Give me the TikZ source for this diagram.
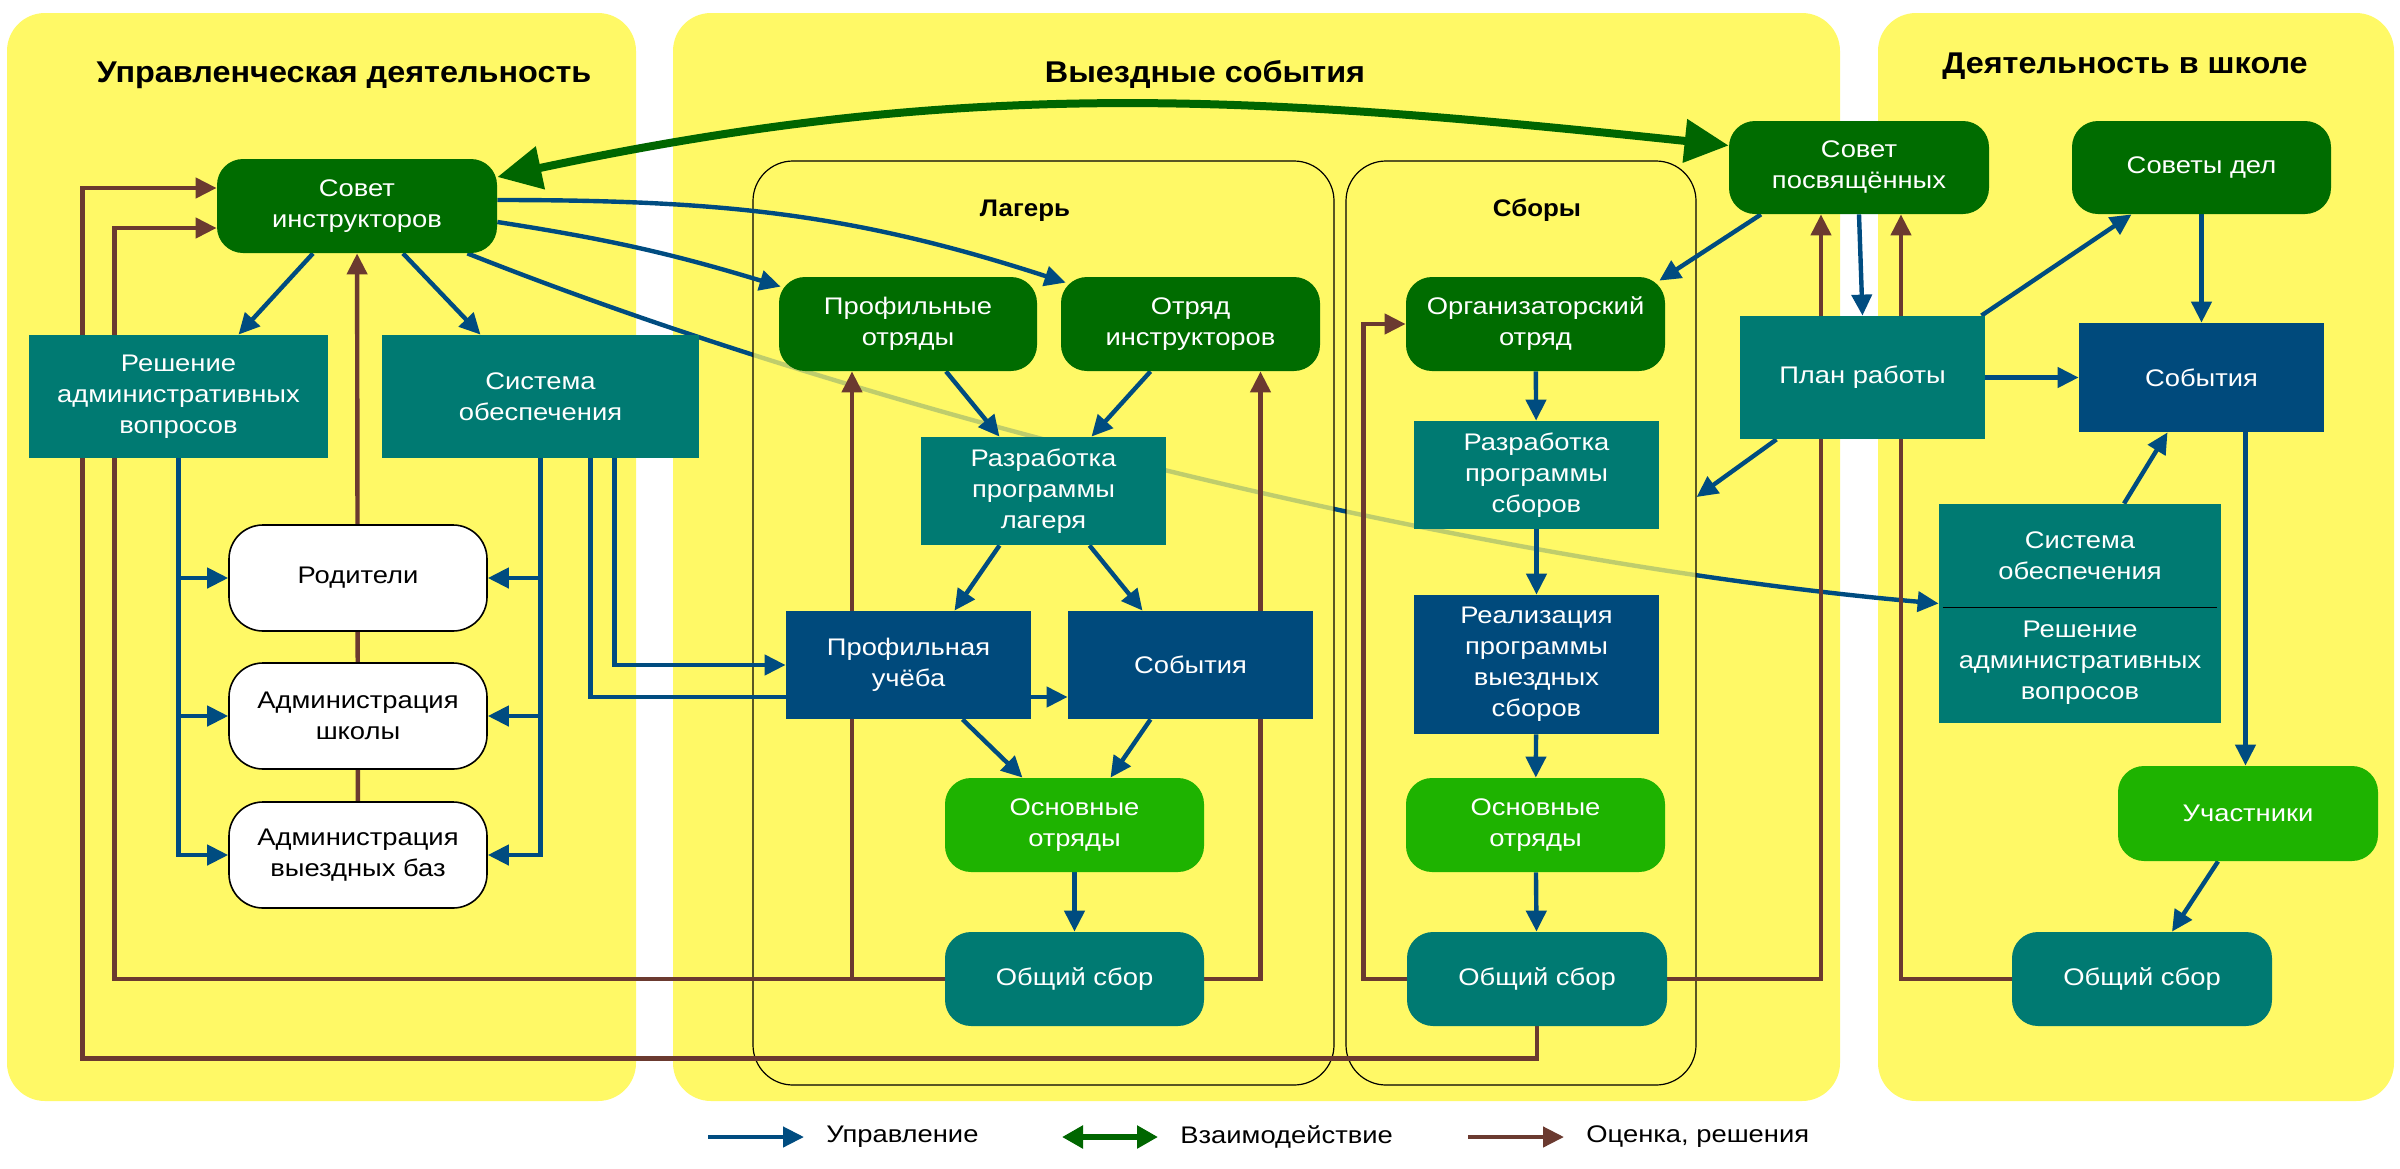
\documentclass[tikz,border=0pt]{standalone}
\usepackage{fontspec}
\setmainfont{Liberation Sans}[FakeStretch=1.14,BoldFeatures={FakeStretch=1.08}]
\usepackage{xcolor}
\usetikzlibrary{arrows.meta,calc}
\definecolor{panelyel}{HTML}{FFF966}
\definecolor{cdgreen}{HTML}{006C00}
\definecolor{clgreen}{HTML}{1EB300}
\definecolor{cteal}{HTML}{007A72}
\definecolor{cnavy}{HTML}{004A7C}
\definecolor{cblue}{HTML}{004C80}
\definecolor{cbrown}{HTML}{6B3A30}
\definecolor{cgreen}{HTML}{006600}
\newcommand{\boxtxt}{\fontsize{12}{15.5}\selectfont}
\newcommand{\panelhead}{\fontsize{15}{18}\selectfont\bfseries}
\pgfdeclarelayer{bg}
\pgfdeclarelayer{under}
\pgfdeclarelayer{frames}
\pgfdeclarelayer{lines}
\pgfsetlayers{bg,under,frames,lines,main}
\tikzset{
  panel/.style={fill=panelyel, rounded corners=19pt},
  frame/.style={draw=black, line width=0.6pt, fill=panelyel, fill opacity=0.75, rounded corners=20pt},
  sz/.style 2 args={minimum width=#1*0.5pt, minimum height=#2*0.5pt},
  boxtext/.style={inner sep=0pt, align=center, text=white, font=\boxtxt},
  council/.style={boxtext, fill=cdgreen, rounded corners=13pt},
  squad/.style={boxtext, fill=clgreen, rounded corners=13pt},
  meet/.style={boxtext, fill=cteal, rounded corners=13pt},
  work/.style={boxtext, fill=cteal},
  act/.style={boxtext, fill=cnavy},
  partner/.style={boxtext, text=black, fill=white, draw=black, line width=0.8pt, rounded corners=17pt},
  head/.style={inner sep=0pt, anchor=base, font=\panelhead},
  ctrl/.style={draw=cblue, line width=2.2pt, -{Triangle[length=10.5pt,width=10pt]}},
  eval/.style={draw=cbrown, line width=2.2pt, -{Triangle[length=10.5pt,width=10pt]}},
  inter/.style={draw=cgreen, line width=4pt, {Triangle[length=22pt,width=21pt]}-{Triangle[length=22pt,width=21pt]}},
  interkey/.style={draw=cgreen, line width=3pt, {Triangle[length=10.5pt,width=11pt]}-{Triangle[length=10.5pt,width=11pt]}},
}
\begin{document}
\begin{tikzpicture}[x=0.5pt, y=-0.5pt]
\useasboundingbox (0,0) rectangle (2400,1168);

% three activity panels
\begin{pgfonlayer}{bg}
\fill[panel] (7,13) rectangle (636,1101);
\fill[panel] (673,13) rectangle (1840,1101);
\fill[panel] (1878,13) rectangle (2394,1101);
\end{pgfonlayer}

\node[head] (hUpr) at (344,82) {Управленческая деятельность};
\node[head] (hVyezd) at (1205,82) {Выездные события};
\node[head] (hShk) at (2125,73.5) {Деятельность в школе};

% camp and gatherings frames
\begin{pgfonlayer}{frames}
\node[frame, sz={581}{924}] (lager) at (1043.5,623) {};
\node[frame, sz={350}{924}] (sbory) at (1521,623) {};
\end{pgfonlayer}
\node[head, font=\boxtxt\bfseries] (lLag) at (1025,216) {Лагерь};
\node[head, font=\boxtxt\bfseries] (lSb) at (1537,216) {Сборы};

% management
\node[council, sz={280}{94}] (sovInstr) at (357,206) {Совет\\инструкторов};
\node[work, sz={299}{123}] (reshL) at (178.5,396.5) {Решение\\административных\\вопросов};
\node[work, sz={317}{123}] (sysL) at (540.5,396.5) {Система\\обеспечения};
\node[partner, sz={258}{106}] (rodit) at (358,578) {Родители};
\node[partner, sz={258}{106}] (admShk) at (358,716) {Администрация\\школы};
\node[partner, sz={258}{106}] (admBaz) at (358,855) {Администрация\\выездных баз};

% camp
\node[council, sz={258}{94}] (profOtr) at (908,324) {Профильные\\отряды};
\node[council, sz={259}{94}] (otrInstr) at (1190.5,324) {Отряд\\инструкторов};
\node[work, sz={245}{108}] (razLag) at (1043.5,491) {Разработка\\программы\\лагеря};
\node[act, sz={245}{108}] (profUch) at (908.5,665) {Профильная\\учёба};
\node[act, sz={245}{108}] (sobL) at (1190.5,665) {События};
\node[squad, sz={259}{94}] (osnL) at (1074.5,825) {Основные\\отряды};
\node[meet, sz={259}{94}] (obshL) at (1074.5,979) {Общий сбор};

% gatherings
\node[council, sz={259}{94}] (orgOtr) at (1535.5,324) {Организаторский\\отряд};
\node[work, sz={245}{108}] (razSb) at (1536.5,475) {Разработка\\программы\\сборов};
\node[act, sz={245}{139}] (realiz) at (1536.5,664.5) {Реализация\\программы\\выездных\\сборов};
\node[squad, sz={259}{94}] (osnS) at (1535.5,825) {Основные\\отряды};
\node[meet, sz={260}{94}] (obshS) at (1537,979) {Общий сбор};

% school
\node[council, sz={260}{93}] (sovPosv) at (1859,167.5) {Совет\\посвящённых};
\node[work, sz={245}{123}] (plan) at (1862.5,377.5) {План работы};
\node[council, sz={259}{93}] (sovDel) at (2201.5,167.5) {Советы дел};
\node[act, sz={245}{109}] (sobR) at (2201.5,377.5) {События};
\node[work, sz={282}{219}] (sysR) at (2080,613.5) {};
\node[boxtext] (sysRa) at (2080,556) {Система\\обеспечения};
\node[boxtext] (sysRb) at (2080,663) {Решение\\административных\\вопросов};
\draw[line width=0.8pt] ([xshift=2pt,yshift=3pt]sysR.west) -- ([xshift=-2pt,yshift=3pt]sysR.east);
\node[squad, sz={260}{95}] (uchast) at (2248,813.5) {Участники};
\node[meet, sz={260}{94}] (obshR) at (2142,979) {Общий сбор};

% long control line, seen through the frames
\begin{pgfonlayer}{under}
\draw[ctrl] ([xshift=-15pt]sovInstr.south east) .. controls (900,425) and (1500,565) .. ([yshift=5pt]sysR.west);
\end{pgfonlayer}

\begin{pgfonlayer}{lines}
% control
\draw[ctrl] ([xshift=-22pt]sovInstr.south) -- ([xshift=30pt]reshL.north);
\draw[ctrl] ([xshift=23pt]sovInstr.south) -- ([xshift=-30pt]sysL.north);
\draw[ctrl] ([yshift=3pt]sovInstr.east) to[out=0,in=162] ([xshift=2.5pt,yshift=-3pt]otrInstr.north west);
\draw[ctrl] ([yshift=-8pt]sovInstr.east) to[bend left=4] ([xshift=1pt,yshift=-5pt]profOtr.north west);
\draw[ctrl] (reshL.south) |- (admBaz.west);
\draw[ctrl] (sysL.south) |- (admBaz.east);
\foreach \p in {rodit,admShk} {
  \draw[ctrl] (reshL.south |- \p.west) -- (\p.west);
  \draw[ctrl] (sysL.south |- \p.east) -- (\p.east);
}
\draw[ctrl] ([xshift=37pt]sysL.south) |- (profUch.west);
\draw[ctrl] ([xshift=25pt]sysL.south) |- ([yshift=-16pt]sobL.west);
\draw[ctrl] ([xshift=19pt]profOtr.south) -- ([xshift=-22pt]razLag.north);
\draw[ctrl] ([xshift=-20pt]otrInstr.south) -- ([xshift=24pt]razLag.north);
\draw[ctrl] ([xshift=-22pt]razLag.south) -- ([xshift=23pt]profUch.north);
\draw[ctrl] ([xshift=23pt]razLag.south) -- ([xshift=-24pt]sobL.north);
\draw[ctrl] ([xshift=27pt]profUch.south) -- ([xshift=-26pt]osnL.north);
\draw[ctrl] ([xshift=-20pt]sobL.south) -- ([xshift=18pt]osnL.north);
\draw[ctrl] (osnL) -- (obshL);
\foreach \a/\b in {orgOtr/razSb, razSb/realiz, realiz/osnS, osnS/obshS}
  \draw[ctrl] (\a) -- (\b);
\draw[ctrl] ([xshift=-49pt]sovPosv.south) -- ([xshift=-3pt,yshift=-2pt]orgOtr.north east);
\draw[ctrl] (sovPosv.south) -- (plan.north);
\draw[ctrl] ([xshift=-43pt]plan.south) -- ([yshift=63pt]sbory.east);
\draw[ctrl] ([xshift=-2pt]plan.north east) -- ([xshift=-35pt]sovDel.south);
\draw[ctrl] (plan.east) -- (sobR.west);
\draw[ctrl] (sovDel) -- (sobR);
\draw[ctrl] ([xshift=22pt]sysR.north) -- ([xshift=-17pt]sobR.south);
\draw[ctrl] ([xshift=22pt]sobR.south) -- ([xshift=22pt]sobR.south |- uchast.north);
\draw[ctrl] ([xshift=-15pt]uchast.south) -- ([xshift=15pt]obshR.north);
% evaluation
\draw[eval] (admBaz) -- (sovInstr);
\draw[eval] (obshL.west) -| ([xshift=-32pt]reshL.south) |- ([yshift=-11pt]sovInstr.west);
\draw[eval] ([xshift=-28pt]profOtr.south |- obshL.west) -- ([xshift=-28pt]profOtr.south);
\draw[eval] (obshL.east) -| ([xshift=35pt]otrInstr.south);
\draw[eval] (obshS.south) -- ++(0,32) -| ([xshift=-48pt]reshL.south) |- ([yshift=9pt]sovInstr.west);
\draw[eval] (obshS.west) -| ([xshift=-21pt]orgOtr.west) -- (orgOtr.west);
\draw[eval] (obshS.east) -| ([xshift=-19pt]sovPosv.south);
\draw[eval] (obshR.west) -| ([xshift=21pt]sovPosv.south);
% interaction
\draw[inter] ([yshift=14.5pt]sovInstr.east) to[out=12,in=174] ([yshift=11pt]sovPosv.west);
\end{pgfonlayer}

% legend
\foreach \i/\st/\xa/\txt in {1/ctrl/708/Управление, 2/interkey/1062/Взаимодействие, 3/eval/1468/{Оценка, решения}} {
  \coordinate (lg\i a) at (\xa,1137);
  \coordinate (lg\i b) at ({\xa+96},1137);
  \draw[\st] (lg\i a) -- (lg\i b);
  \node[anchor=west, inner sep=0pt, font=\boxtxt] (lgt\i) at ({\xa+118},1137) {\txt};
}
\end{tikzpicture}
\end{document}
